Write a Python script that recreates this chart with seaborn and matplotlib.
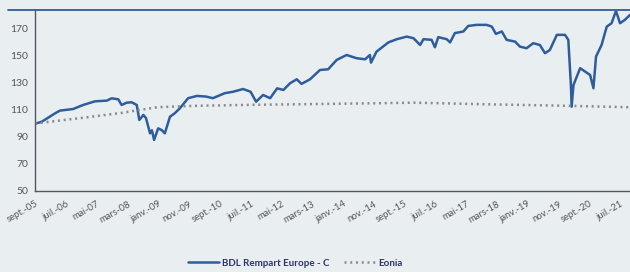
import numpy as np
import pandas as pd
import seaborn as sns
import matplotlib
matplotlib.use('Agg')
from matplotlib import pyplot as plt
from matplotlib.lines import Line2D

#%% Data (x in decimal years)
fund_year = [2005.71, 2005.85, 2006.21, 2006.34, 2006.70, 2006.97, 2007.29, 2007.61,
             2007.74, 2007.92, 2008.01, 2008.15, 2008.28, 2008.42, 2008.49, 2008.60,
             2008.67, 2008.78, 2008.83, 2008.89, 2009.00, 2009.10, 2009.18, 2009.32,
             2009.45, 2009.59, 2009.81, 2010.05, 2010.30, 2010.48, 2010.80, 2011.03,
             2011.30, 2011.50, 2011.65, 2011.84, 2012.03, 2012.22, 2012.39, 2012.57,
             2012.75, 2012.88, 2013.11, 2013.38, 2013.60, 2013.83, 2014.10, 2014.37,
             2014.60, 2014.73, 2014.76, 2014.91, 2015.09, 2015.23, 2015.46, 2015.73,
             2015.91, 2016.09, 2016.18, 2016.40, 2016.49, 2016.58, 2016.81, 2016.90,
             2017.03, 2017.26, 2017.39, 2017.62, 2017.89, 2018.03, 2018.14, 2018.30,
             2018.43, 2018.66, 2018.79, 2018.97, 2019.15, 2019.33, 2019.47, 2019.60,
             2019.79, 2020.01, 2020.10, 2020.17, 2020.19, 2020.24, 2020.42, 2020.55,
             2020.69, 2020.78, 2020.85, 2021.00, 2021.14, 2021.27, 2021.39, 2021.50,
             2021.63, 2021.77]
fund_value = [100.1, 101.3, 107.5, 109.5, 110.7, 113.7, 116.4, 116.9,
              118.6, 117.9, 113.7, 115.4, 115.7, 113.7, 102.6, 106.3,
              104.0, 92.7, 95.0, 87.8, 96.4, 95.0, 92.7, 105.0,
              107.6, 111.3, 118.7, 120.4, 119.9, 118.7, 122.4, 123.5,
              125.5, 123.5, 116.1, 121.1, 118.7, 126.0, 124.8, 129.8,
              132.7, 129.3, 132.7, 139.6, 140.1, 147.0, 150.7, 148.3,
              147.5, 150.7, 145.0, 153.2, 157.0, 160.0, 162.4, 164.3,
              163.1, 158.1, 162.4, 161.9, 156.4, 163.9, 162.4, 160.0,
              166.9, 168.1, 172.2, 173.0, 173.0, 171.7, 166.3, 168.1,
              161.9, 160.6, 156.9, 155.7, 159.4, 158.1, 152.0, 154.4,
              165.6, 165.6, 161.9, 128.5, 112.4, 128.5, 140.9, 138.5,
              135.9, 126.1, 149.5, 158.1, 171.7, 174.2, 183.3, 174.2,
              176.7, 180.4]

eonia_year = [2005.67, 2007.0, 2008.0, 2008.97, 2009.9, 2011.5, 2013.3, 2015.0,
              2015.9, 2017.9, 2020.2, 2021.77]
eonia_value = [100.0, 104.3, 107.8, 112.0, 113.0, 113.8, 114.4, 115.0,
               115.4, 114.2, 113.0, 112.0]

tick_labels = ['sept.-05', 'juil.-06', 'mai-07', 'mars-08', 'janv.-09', 'nov.-09',
               'sept.-10', 'juil.-11', 'mai-12', 'mars-13', 'janv.-14', 'nov.-14',
               'sept.-15', 'juil.-16', 'mai-17', 'mars-18', 'janv.-19', 'nov.-19',
               'sept.-20', 'juil.-21']
y_ticks = [50, 70, 90, 110, 130, 150, 170]

#%% Plot
bg = '#e9eef1'
fund_color = '#2f5d9c'
eonia_color = '#8a8a8a'
text_color = '#555555'

sns.set_style('white')
plt.rcParams['font.family'] = ['Lato', 'DejaVu Sans']

fig = plt.figure(figsize=(6.3, 2.72), dpi=100, facecolor=bg)
ax = fig.add_axes([35 / 630, 1 - 191 / 272, 1 - 35 / 630, 181 / 272])
ax.set_facecolor(bg)

sns.lineplot(x=fund_year, y=fund_value, ax=ax, color=fund_color, linewidth=1.8,
             label='BDL Rempart Europe - C')
sns.lineplot(x=eonia_year, y=eonia_value, ax=ax, color=eonia_color, linewidth=1.8,
             linestyle=(0, (0.8, 1.5)), label='Eonia')

# ticks every 10 months starting sept 2005
tick_pos = [2005 + 8 / 12 + i * 10 / 12 for i in range(len(tick_labels))]
ax.set_xticks(tick_pos)
ax.set_xticklabels(tick_labels, rotation=30, ha='right', rotation_mode='anchor',
                   fontsize=6.8, color=text_color)
ax.set_yticks(y_ticks)
ax.set_yticklabels([str(v) for v in y_ticks], fontsize=7.5, color=text_color)
ax.tick_params(axis='both', direction='out', length=3, width=0.8, color='#555566', pad=2)
ax.tick_params(axis='x', pad=3)

ax.set_xlim(2005 + 8 / 12, 2005 + 8 / 12 + 595 / 36.95)
ax.set_ylim(50, 184)

for side in ['top', 'right']:
    ax.spines[side].set_visible(False)
for side in ['left', 'bottom']:
    ax.spines[side].set_color('#555566')
    ax.spines[side].set_linewidth(1.0)

# blue rule across the top
fig.add_artist(Line2D([8 / 630, 1], [1 - 10 / 272, 1 - 10 / 272], color=fund_color,
                      linewidth=1.3, transform=fig.transFigure))

leg = ax.legend(loc='center', bbox_to_anchor=(0.5 - 37 / 595, -0.40), ncol=2,
                frameon=False, fontsize=7, handlelength=3.2, columnspacing=1.5,
                handletextpad=0.3)
for t in leg.get_texts():
    t.set_color('#2b3566')
    t.set_fontweight('bold')

fig.savefig('out.png', dpi=100, facecolor=bg)
